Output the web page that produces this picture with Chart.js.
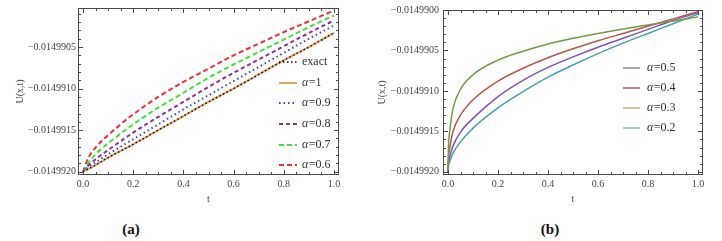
<!DOCTYPE html>
<html>
<head>
<meta charset="utf-8">
<script src="https://cdn.jsdelivr.net/npm/chart.js@4.4.1/dist/chart.umd.min.js"></script>
<style>
body { margin: 0; background: #fff; width: 722px; height: 241px; position: relative; overflow: hidden; }
.panel { position: absolute; top: 0; width: 361px; height: 205px; }
.cap { position: absolute; top: 221px; width: 40px; text-align: center; font: bold 15px "Liberation Serif", "Times New Roman", serif; color: #111; }
</style>
</head>
<body>
<div class="panel" style="left:0"><canvas id="chartA" width="361" height="205"></canvas></div>
<div class="panel" style="left:361px"><canvas id="chartB" width="361" height="205"></canvas></div>
<div class="cap" style="left:111px">(a)</div>
<div class="cap" style="left:530px">(b)</div>
<script>
// panel (a)
const tA = [0, 0.02, 0.05, 0.1, 0.2, 0.3, 0.4, 0.5, 0.6, 0.7, 0.8, 0.9, 1.0];
const exactA = [-0.014992, -0.01499197, -0.01499192, -0.01499183, -0.01499167, -0.0149915, -0.01499133, -0.01499116, -0.014991, -0.01499083, -0.01499066, -0.0149905, -0.01499033];
const alpha1A = exactA.slice();
const alpha09A = [-0.014992, -0.01499195, -0.01499189, -0.01499179, -0.01499161, -0.01499143, -0.01499125, -0.01499108, -0.01499091, -0.01499074, -0.01499057, -0.0149904, -0.01499024];
const alpha08A = [-0.014992, -0.01499193, -0.01499185, -0.01499174, -0.01499153, -0.01499134, -0.01499116, -0.01499098, -0.01499081, -0.01499065, -0.01499049, -0.01499033, -0.01499018];
const alpha07A = [-0.014992, -0.0149919, -0.01499179, -0.01499166, -0.01499143, -0.01499123, -0.01499105, -0.01499087, -0.01499071, -0.01499056, -0.01499041, -0.01499026, -0.01499012];
const alpha06A = [-0.014992, -0.01499184, -0.01499171, -0.01499156, -0.01499131, -0.0149911, -0.01499092, -0.01499076, -0.0149906, -0.01499046, -0.01499032, -0.01499019, -0.01499006];
const yTicksA = [-0.014992, -0.0149915, -0.014991, -0.0149905];

// panel (b)
const tB = [0, 0.002, 0.005, 0.01, 0.02, 0.05, 0.1, 0.2, 0.3, 0.4, 0.5, 0.6, 0.7, 0.8, 0.9, 1.0];
const olive = [-0.014992, -0.01499168, -0.01499155, -0.01499142, -0.01499122, -0.01499098, -0.0149908, -0.01499062, -0.01499051, -0.01499042, -0.01499035, -0.01499029, -0.014990235, -0.014990185, -0.014990135, -0.014990085];
const red = [-0.014992, -0.01499182, -0.01499174, -0.01499165, -0.0149915, -0.0149913, -0.01499111, -0.01499088, -0.01499072, -0.01499059, -0.01499048, -0.01499038, -0.01499029, -0.0149902, -0.01499011, -0.01499002];
const purple = [-0.014992, -0.01499189, -0.01499184, -0.01499178, -0.01499168, -0.01499151, -0.01499134, -0.01499107, -0.01499087, -0.01499071, -0.01499058, -0.01499046, -0.01499035, -0.01499024, -0.01499013, -0.01499003];
const teal = [-0.014992, -0.01499192, -0.01499189, -0.01499185, -0.01499177, -0.01499163, -0.01499146, -0.01499121, -0.01499101, -0.01499083, -0.01499068, -0.01499054, -0.01499041, -0.01499029, -0.01499017, -0.01499005];
const yTicksB = [-0.014992, -0.0149915, -0.014991, -0.0149905, -0.01499];

const xTicks = [0, 0.2, 0.4, 0.6, 0.8, 1.0];

const serif = "'Liberation Serif', 'Times New Roman', serif";

function pts(ts, ys) {
    return ts.map(function(t, i){ return {x: t, y: ys[i]}; });
}

function fmtY(v) {
    return v.toFixed(7).replace('-', '\u2212');
}

const framePlugin = {
    id: 'frame',
    afterDraw: function(chart, args, opts) {
        const ctx = chart.ctx, a = chart.chartArea;
        const xs = chart.scales.x, ys = chart.scales.y;
        ctx.save();
        ctx.strokeStyle = '#4a4a4a';
        ctx.lineWidth = 1;
        ctx.strokeRect(a.left + 0.5, a.top + 0.5, a.right - a.left - 1, a.bottom - a.top - 1);
        ctx.beginPath();
        for (let i = 0; i <= 20; i++) {
            const px = Math.round(xs.getPixelForValue(i * 0.05)) + 0.5;
            const len = i % 4 === 0 ? 5 : 3;
            ctx.moveTo(px, a.bottom); ctx.lineTo(px, a.bottom - len);
            ctx.moveTo(px, a.top); ctx.lineTo(px, a.top + len);
        }
        for (let i = 0; i <= opts.yCount; i++) {
            const py = Math.round(ys.getPixelForValue(-0.014992 + i * 1e-7)) + 0.5;
            const len = i % 5 === 0 ? 5 : 3;
            ctx.moveTo(a.left, py); ctx.lineTo(a.left + len, py);
            ctx.moveTo(a.right, py); ctx.lineTo(a.right - len, py);
        }
        ctx.stroke();
        ctx.restore();
    }
};

const legendPlugin = {
    id: 'inlegend',
    afterDatasetsDraw: function(chart, args, opts) {
        const ctx = chart.ctx;
        ctx.save();
        opts.items.forEach(function(it, i){
            const y = opts.ys[i];
            ctx.strokeStyle = it.color;
            ctx.lineWidth = it.width;
            ctx.setLineDash(it.dash || []);
            ctx.beginPath();
            ctx.moveTo(opts.x0, y);
            ctx.lineTo(opts.x1, y);
            ctx.stroke();
            ctx.setLineDash([]);
            ctx.fillStyle = '#333';
            ctx.textBaseline = 'middle';
            let x = opts.tx;
            let txt = it.label;
            if (txt.charAt(0) === 'α') {
                ctx.font = 'italic 12px ' + serif;
                ctx.fillText('α', x, y);
                x += ctx.measureText('α').width + 0.5;
                txt = txt.slice(1);
            }
            ctx.font = '12px ' + serif;
            ctx.fillText(txt, x, y);
        });
        ctx.restore();
    }
};

function makeScales(yMin, yMax, yTicks, yPad) {
    return {
        x: {
            type: 'linear', min: -0.02, max: 1.02,
            afterBuildTicks: function(s){ s.ticks = xTicks.map(function(v){ return {value: v}; }); },
            afterFit: function(s){ s.height = 30; },
            grid: {display: false, drawTicks: false},
            border: {display: false},
            ticks: {color: '#444', font: {family: serif, size: 10}, padding: 3, maxRotation: 0,
                callback: function(v){ return v.toFixed(1); }},
            title: {display: true, text: 't', color: '#444', font: {family: serif, size: 10}, padding: {top: 0, bottom: 0}}
        },
        y: {
            type: 'linear', min: yMin, max: yMax,
            afterBuildTicks: function(s){ s.ticks = yTicks.map(function(v){ return {value: v}; }); },
            afterFit: function(s){ s.width = yPad.width; },
            grid: {display: false, drawTicks: false},
            border: {display: false},
            ticks: {color: '#444', font: {family: serif, size: 10}, padding: yPad.tick,
                callback: function(v){ return fmtY(v); }},
            title: {display: true, text: 'U(x,t)', color: '#444', font: {family: serif, size: 10}, padding: {top: yPad.title, bottom: 0}}
        }
    };
}

new Chart(document.getElementById('chartA'), {
    type: 'line',
    data: {
        datasets: [
            {label: 'exact', data: pts(tA, exactA), borderColor: '#111', borderWidth: 1.5, borderDash: [1.5, 2.5], order: 0},
            {label: 'α=1', data: pts(tA, alpha1A), borderColor: '#e9a15e', borderWidth: 2, order: 1},
            {label: 'α=0.9', data: pts(tA, alpha09A), borderColor: '#3b3fd6', borderWidth: 2, borderDash: [1.5, 3], order: 2},
            {label: 'α=0.8', data: pts(tA, alpha08A), borderColor: '#8d2f9e', borderWidth: 2, borderDash: [4, 3], order: 3},
            {label: 'α=0.7', data: pts(tA, alpha07A), borderColor: '#3fe03f', borderWidth: 2, borderDash: [5, 3], order: 4},
            {label: 'α=0.6', data: pts(tA, alpha06A), borderColor: '#e8333c', borderWidth: 2, borderDash: [5, 3], order: 5}
        ]
    },
    options: {
        responsive: false, animation: false,
        elements: {point: {radius: 0}, line: {cubicInterpolationMode: 'monotone', fill: false}},
        layout: {padding: {left: 0, right: 22, top: 4, bottom: 0}},
        scales: makeScales(-0.01499204, -0.01499003, yTicksA, {width: 78, tick: 2, title: 14}),
        plugins: {
            legend: {display: false}, tooltip: {enabled: false},
            frame: {yCount: 19},
            inlegend: {
                x0: 279, x1: 297, tx: 302,
                ys: [62, 83, 103, 124, 145, 165],
                items: [
                    {label: 'exact', color: '#111', width: 1.5, dash: [1.5, 2.5]},
                    {label: 'α=1', color: '#e9a15e', width: 2},
                    {label: 'α=0.9', color: '#3b3fd6', width: 2, dash: [1.5, 3]},
                    {label: 'α=0.8', color: '#8d2f9e', width: 2, dash: [4, 3]},
                    {label: 'α=0.7', color: '#3fe03f', width: 2, dash: [5, 3]},
                    {label: 'α=0.6', color: '#e8333c', width: 2, dash: [5, 3]}
                ]
            }
        }
    },
    plugins: [framePlugin, legendPlugin]
});

new Chart(document.getElementById('chartB'), {
    type: 'line',
    data: {
        datasets: [
            {label: 'α=0.3', data: pts(tB, olive), borderColor: '#6f9c46', borderWidth: 1.5},
            {label: 'α=0.4', data: pts(tB, red), borderColor: '#b45a45', borderWidth: 1.5},
            {label: 'α=0.5', data: pts(tB, purple), borderColor: '#8452b4', borderWidth: 1.5},
            {label: 'α=0.2', data: pts(tB, teal), borderColor: '#43a1b4', borderWidth: 1.5}
        ]
    },
    options: {
        responsive: false, animation: false,
        elements: {point: {radius: 0}, line: {cubicInterpolationMode: 'monotone', fill: false}},
        layout: {padding: {left: 0, right: 19, top: 10, bottom: 0}},
        scales: makeScales(-0.01499204, -0.01499, yTicksB, {width: 82, tick: 4, title: 15}),
        plugins: {
            legend: {display: false}, tooltip: {enabled: false},
            frame: {yCount: 20},
            inlegend: {
                x0: 262, x1: 279, tx: 286,
                ys: [68, 88, 108, 128],
                items: [
                    {label: 'α=0.5', color: '#6b6b9e', width: 1.2},
                    {label: 'α=0.4', color: '#8c3a4c', width: 1.2},
                    {label: 'α=0.3', color: '#a89a58', width: 1.2},
                    {label: 'α=0.2', color: '#6aa898', width: 1.2}
                ]
            }
        }
    },
    plugins: [framePlugin, legendPlugin]
});
</script>
</body>
</html>
